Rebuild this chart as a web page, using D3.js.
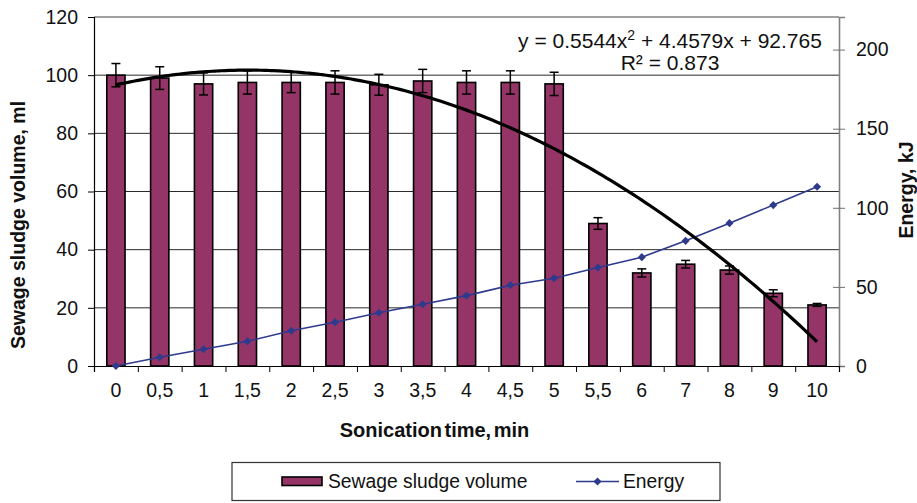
<!DOCTYPE html>
<html>
<head>
<meta charset="utf-8">
<script src="https://cdn.jsdelivr.net/npm/d3@7"></script>
<style>
  html, body { margin: 0; padding: 0; background: #fff; }
  svg { display: block; font-family: "Liberation Sans", Arial, sans-serif; }
</style>
</head>
<body>
<svg id="chart" width="917" height="503"></svg>
<script>
// Sonication time categories (min)
const categories = ["0","0,5","1","1,5","2","2,5","3","3,5","4","4,5","5","5,5","6","7","8","9","10"];
// Sewage sludge volume (ml) and its error
const volume = [100, 99, 97, 97.5, 97.5, 97.5, 96.7, 98, 97.5, 97.5, 97, 49, 32, 35, 33, 25, 21];
const volumeErr = [4, 3.9, 3.8, 4, 3.5, 4, 3.6, 4, 4, 4, 4, 2, 1.4, 1.3, 1.4, 1.2, 0.5];
// Energy (kJ)
const energy = [0, 5.5, 10.6, 15.6, 22.3, 27.7, 33.7, 39, 44.5, 51, 55.5, 62.2, 68.8, 79.1, 90.3, 101.7, 113.3];
// Polynomial trendline coefficients (a·x² + b·x + c, x = category index from 1)
const trendCoef = [-0.5544, 4.4579, 92.765];
const leftTicks = [0, 20, 40, 60, 80, 100, 120];
const rightTicks = [0, 50, 100, 150, 200];

const svg = d3.select("#chart");
const L = 94, R = 839, T = 17, B = 366;
const tickFont = 19.5;
const FONT = "Liberation Sans, Arial, sans-serif";
const barColor = "#953567";
const lineColor = "#2e3a8c";

const x = d3.scaleBand().domain(categories).range([L, R]).padding(0);
const bw = x.bandwidth();
const xc = d => x(d) + bw / 2;
const y = d3.scaleLinear().domain([0, 120]).range([B, T]);
const y2 = d3.scaleLinear().domain([0, 220.6]).range([B, T]);
const xIdx = d3.scaleLinear().domain([1, categories.length]).range([xc(categories[0]), xc(categories[categories.length - 1])]);
const xEdge = d3.scaleLinear().domain([0, categories.length]).range([L, R]);

// horizontal gridlines
svg.append("g").selectAll("line").data(leftTicks.filter(v => v > 0 && v < 120)).join("line")
  .attr("x1", L).attr("x2", R).attr("y1", d => y(d)).attr("y2", d => y(d))
  .attr("stroke", "#2a2a2a").attr("stroke-width", 1);
// plot frame top
svg.append("line").attr("x1", L).attr("x2", R).attr("y1", T).attr("y2", T)
  .attr("stroke", "#808080").attr("stroke-width", 1.6);

// bars
const barW = bw / 2.4;
svg.append("g").selectAll("rect").data(volume).join("rect")
  .attr("x", (d, i) => xc(categories[i]) - barW / 2)
  .attr("y", d => y(d))
  .attr("width", barW)
  .attr("height", d => B - y(d))
  .attr("fill", barColor)
  .attr("stroke", "#000").attr("stroke-width", 1.6);

// error bars
const eb = svg.append("g").attr("stroke", "#000").attr("stroke-width", 1.5);
volume.forEach((v, i) => {
  const cx = xc(categories[i]), e = volumeErr[i];
  eb.append("line").attr("x1", cx).attr("x2", cx).attr("y1", y(v + e)).attr("y2", y(v - e));
  eb.append("line").attr("x1", cx - 4.5).attr("x2", cx + 4.5).attr("y1", y(v + e)).attr("y2", y(v + e));
  eb.append("line").attr("x1", cx - 4.5).attr("x2", cx + 4.5).attr("y1", y(v - e)).attr("y2", y(v - e));
});

// axes
const yAxis = svg.append("g").attr("transform", `translate(${L},0)`)
  .call(d3.axisLeft(y).tickValues(leftTicks).tickSize(6).tickPadding(10));
const y2Axis = svg.append("g").attr("transform", `translate(${R},0)`)
  .call(d3.axisRight(y2).tickValues(rightTicks).tickSize(6).tickPadding(11));
y2Axis.selectAll(".tick line").attr("x1", -6).attr("x2", 6);
const xAxis = svg.append("g").attr("transform", `translate(0,${B})`)
  .call(d3.axisBottom(xEdge).tickValues(d3.range(categories.length + 1)).tickSize(6).tickFormat(""));
const xLabels = svg.append("g").attr("transform", `translate(0,${B})`)
  .call(d3.axisBottom(x).tickSize(0).tickPadding(17));
xLabels.select(".domain").remove();

[yAxis, y2Axis, xAxis, xLabels].forEach(g => {
  g.selectAll("text").attr("font-size", tickFont).attr("font-family", FONT).attr("fill", "#111");
  g.selectAll("line").attr("stroke", "#000");
  g.select(".domain").attr("stroke", "#000").attr("stroke-width", 1.2);
});
y2Axis.selectAll("line").attr("stroke", "#707070");
y2Axis.select(".domain").attr("stroke", "#808080").attr("stroke-width", 1.6);

// energy line
svg.append("path").datum(energy)
  .attr("d", d3.line().x((d, i) => xc(categories[i])).y(d => y2(d)))
  .attr("fill", "none").attr("stroke", lineColor).attr("stroke-width", 1.6);
svg.append("g").selectAll("path").data(energy).join("path")
  .attr("transform", (d, i) => `translate(${xc(categories[i])},${y2(d)})`)
  .attr("d", d3.symbol(d3.symbolDiamond2, 42))
  .attr("fill", lineColor);

// polynomial trendline
const tSamples = d3.range(1, categories.length + 0.001, 0.1);
svg.append("path").datum(tSamples)
  .attr("d", d3.line().x(t => xIdx(t)).y(t => y(trendCoef[0] * t * t + trendCoef[1] * t + trendCoef[2])).curve(d3.curveMonotoneX))
  .attr("fill", "none").attr("stroke", "#000").attr("stroke-width", 3.2);

// trendline equation
const eq = svg.append("text").attr("x", 670).attr("y", 48).attr("text-anchor", "middle")
  .attr("font-size", 21).attr("fill", "#111");
eq.append("tspan").text("y = 0.5544x");
eq.append("tspan").attr("font-size", 14).attr("dy", -8).text("2");
eq.append("tspan").attr("dy", 8).text(" + 4.4579x + 92.765");
svg.append("text").attr("x", 670).attr("y", 70).attr("text-anchor", "middle")
  .attr("font-size", 21).attr("fill", "#111").text("R² = 0.873");

// axis titles
svg.append("text").attr("transform", `translate(25,225) rotate(-90)`)
  .attr("text-anchor", "middle").attr("font-size", 19.5).attr("font-weight", "bold").attr("fill", "#111")
  .text("Sewage sludge volume, ml");
svg.append("text").attr("transform", `translate(913,190) rotate(-90)`)
  .attr("text-anchor", "middle").attr("font-size", 19.5).attr("font-weight", "bold").attr("fill", "#111")
  .text("Energy, kJ");
svg.append("text").attr("x", 434.5).attr("y", 436.5)
  .attr("text-anchor", "middle").attr("font-size", 20).attr("font-weight", "bold").attr("fill", "#111")
  .attr("word-spacing", -3)
  .text("Sonication time, min");

// legend
const lg = svg.append("g");
lg.append("rect").attr("x", 232).attr("y", 462.5).attr("width", 488).attr("height", 38)
  .attr("fill", "#fff").attr("stroke", "#333").attr("stroke-width", 1.2);
lg.append("rect").attr("x", 282).attr("y", 477).attr("width", 40).attr("height", 8.5)
  .attr("fill", barColor).attr("stroke", "#000").attr("stroke-width", 1.6);
lg.append("text").attr("x", 328).attr("y", 487.5).attr("font-size", 19.3).attr("fill", "#111").text("Sewage sludge volume");
lg.append("line").attr("x1", 576).attr("x2", 619).attr("y1", 481.5).attr("y2", 481.5)
  .attr("stroke", lineColor).attr("stroke-width", 1.6);
lg.append("path").attr("transform", "translate(597.5,481.5)").attr("d", d3.symbol(d3.symbolDiamond2, 42)).attr("fill", lineColor);
lg.append("text").attr("x", 623).attr("y", 487.5).attr("font-size", 19.3).attr("fill", "#111").text("Energy");
</script>
</body>
</html>
